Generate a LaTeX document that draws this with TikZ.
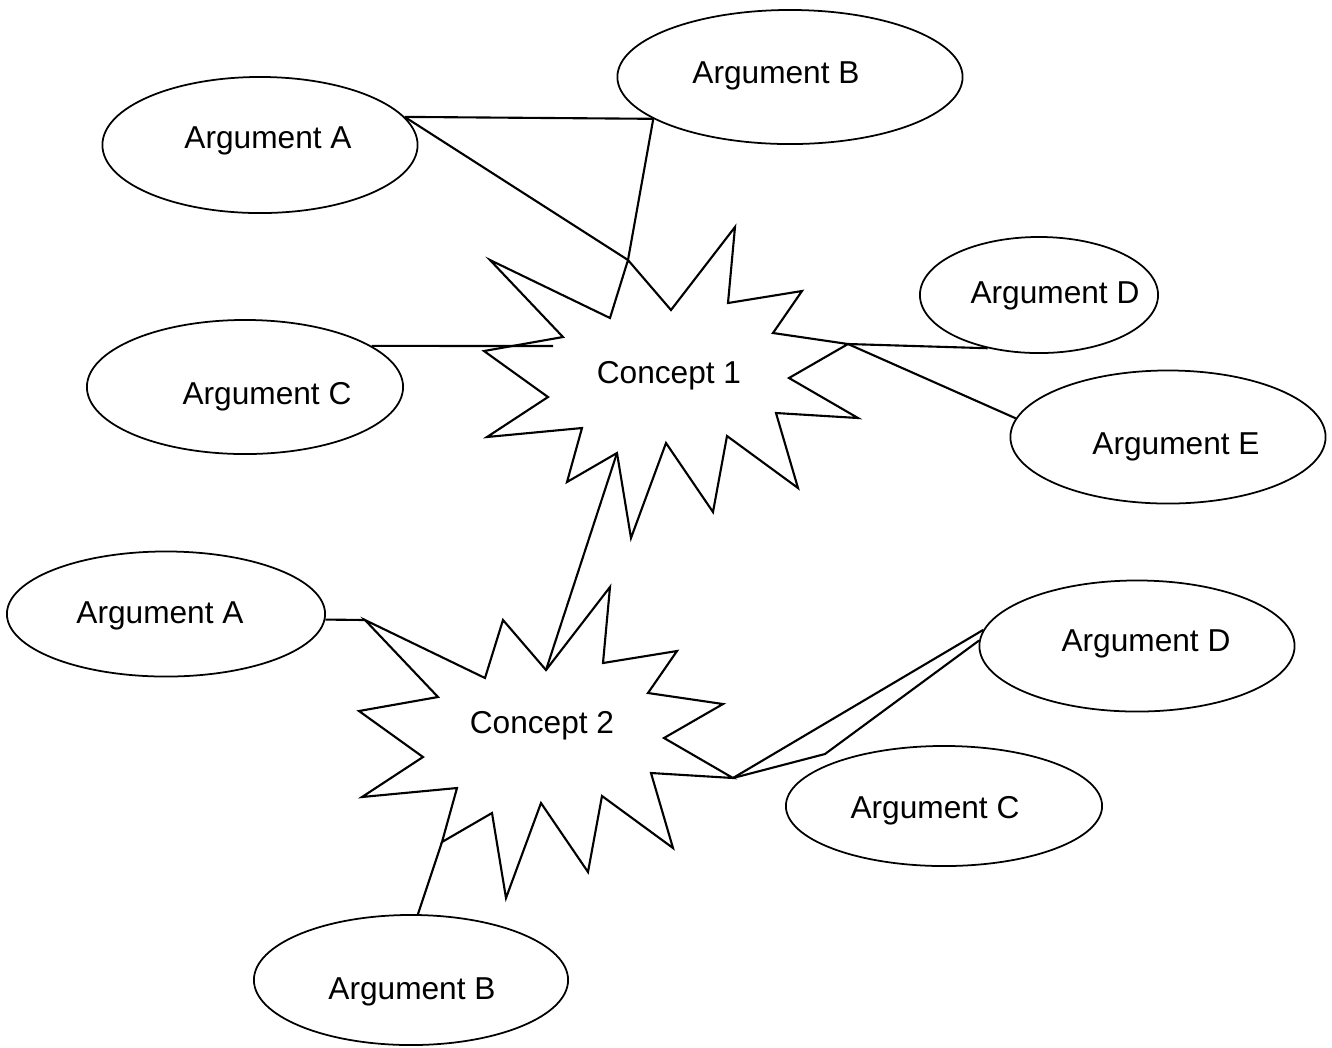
\documentclass[tikz,border=0pt]{standalone}
\usepackage{fontspec}
\setmainfont{Liberation Sans}
\usetikzlibrary{shapes.geometric}
\tikzset{
	arg/.style={draw, ellipse, line width=0.5pt, inner sep=0pt},
	link/.style={line width=0.6pt},
	burstline/.style={line width=0.6pt},
	lbl/.style={font=\fontsize{9}{11}\selectfont}
}
\def\burst#1(#2){%
	\begin{scope}[shift={(#2)}]
		\foreach \x/\y [count=\i] in {490/260,610/318,628/260,671/310,735/227,728/303,802/291,773/333,848/344,789/378,858/418,776/413,798/488,727/436,713/512,666/443,631/538,617/453,567/482,582/428,487/437,548/397,484/351,563/337}
			\coordinate (#1-\i) at (\x,\y);
	\end{scope}
	\draw[burstline] (#1-1) \foreach \i in {2,...,24}{ -- (#1-\i)} -- cycle;}

\begin{document}
\begin{tikzpicture}[x=0.01cm, y=-0.01cm]
		%%%%% START %%%%%
		\useasboundingbox (0,0) rectangle (1332,1047);
		
		\burst{s1}(0,0)
		\burst{s2}(-125,360)
		\node[lbl] (con1) at (669,376) {Concept 1};
		\node[lbl] (con2) at (542,726) {Concept 2};
		
		\node[arg, minimum width=3.15cm, minimum height=1.36cm, label={[lbl, xshift=0.08cm, yshift=0.045cm]center:Argument A}] (a1) at (260,145) {};
		\node[arg, minimum width=3.45cm, minimum height=1.34cm, label={[lbl, xshift=-0.14cm, yshift=0.015cm]center:Argument B}] (b1) at (790,77) {};
		\node[arg, minimum width=3.16cm, minimum height=1.34cm, label={[lbl, xshift=0.22cm, yshift=-0.095cm]center:Argument C}] (c1) at (245,387) {};
		\node[arg, minimum width=2.38cm, minimum height=1.16cm, label={[lbl, xshift=0.16cm, yshift=-0.005cm]center:Argument D}] (d1) at (1039,295) {};
		\node[arg, minimum width=3.15cm, minimum height=1.33cm, label={[lbl, xshift=0.08cm, yshift=-0.095cm]center:Argument E}] (e1) at (1168,437) {};
		
		\node[arg, minimum width=3.18cm, minimum height=1.25cm, label={[lbl, xshift=-0.06cm, yshift=-0.015cm]center:Argument A}] (a2) at (166,614) {};
		\node[arg, minimum width=3.14cm, minimum height=1.30cm, label={[lbl, xshift=0.01cm, yshift=-0.115cm]center:Argument B}] (b2) at (411,980) {};
		\node[arg, minimum width=3.16cm, minimum height=1.20cm, label={[lbl, xshift=-0.09cm, yshift=-0.045cm]center:Argument C}] (c2) at (944,806) {};
		\node[arg, minimum width=3.15cm, minimum height=1.31cm, label={[lbl, xshift=0.09cm, yshift=0.025cm]center:Argument D}] (d2) at (1137,646) {};
		
		% links of concept 1
		\draw[link] (a1.11) -- (b1.197);
		\draw[link] (a1.11) -- (s1-3);
		\draw[link] (b1.197) -- (s1-3);
		\coordinate (con1w) at (553,346);
		\draw[link] (c1.18) -- (con1w);
		\draw[link] (s1-9) -- (d1.226);
		\draw[link] (s1-9) -- (e1.173);
		\draw[link] (s1-18) -- (s2-4);
		
		% links of concept 2
		\draw[link] (a2.358) -- (s2-1);
		\draw[link] (b2.84) -- (s2-19);
		\draw[link] (s2-11) -- (d2.174);
		\coordinate (c2bend) at (825,754);
		\draw[link] (s2-11) -- (c2bend) -- (d2.178);
		
		%%%%% END %%%%%
\end{tikzpicture}
\end{document}
